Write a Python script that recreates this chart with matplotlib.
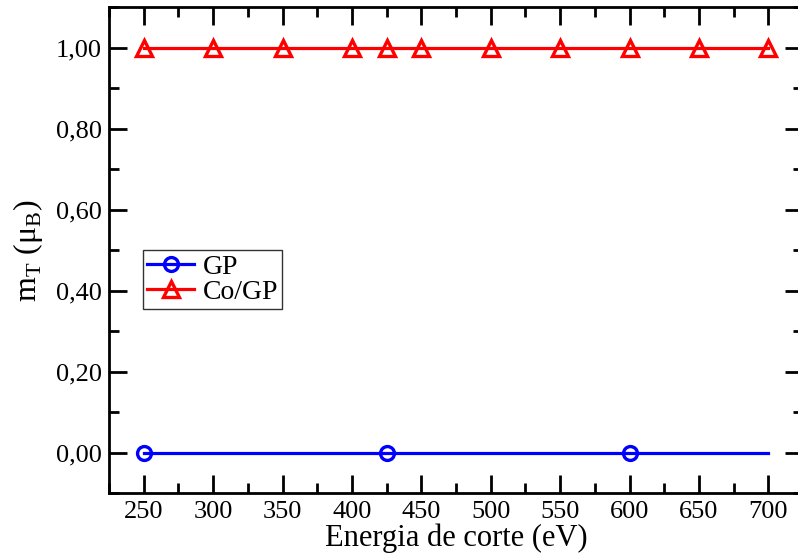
import matplotlib
matplotlib.use("Agg")
import matplotlib.pyplot as plt
from matplotlib.ticker import MultipleLocator, FuncFormatter

plt.rcParams['font.family'] = ['Liberation Serif', 'DejaVu Serif']
plt.rcParams['mathtext.fontset'] = 'custom'
plt.rcParams['mathtext.rm'] = 'Liberation Serif'

# Dados
energia_gp = [250, 425, 600, 700]
mt_gp = [0.0, 0.0, 0.0, 0.0]
energia_cogp = [250, 300, 350, 400, 425, 450, 500, 550, 600, 650, 700]
mt_cogp = [1.0] * 11

fig = plt.figure(figsize=(7.98, 5.57), dpi=100)
ax = fig.add_axes([0.1366, 0.1149, 0.8697, 0.8725])

ax.plot(energia_gp, mt_gp, color='#0000ff', linewidth=2.3, marker='o', markersize=10,
        markerfacecolor='none', markeredgewidth=2.4, markevery=[0, 1, 2], label='GP')
ax.plot(energia_cogp, mt_cogp, color='#ff0000', linewidth=2.3, marker='^', markersize=11,
        markerfacecolor='none', markeredgewidth=2.4, label='Co/GP')

ax.set_xlim(225, 725)
ax.set_ylim(-0.1, 1.1)
ax.xaxis.set_major_locator(MultipleLocator(50))
ax.xaxis.set_minor_locator(MultipleLocator(25))
ax.yaxis.set_major_locator(MultipleLocator(0.2))
ax.yaxis.set_minor_locator(MultipleLocator(0.1))
ax.yaxis.set_major_formatter(FuncFormatter(lambda v, p: f"{v:.2f}".replace('.', ',')))

ax.tick_params(which='both', direction='in', top=True, right=True, width=2, labelsize=19)
ax.tick_params(which='major', length=13, pad=5)
ax.tick_params(axis='x', which='major', pad=6)
ax.tick_params(which='minor', length=7)
for s in ax.spines.values():
    s.set_linewidth(2)

ax.set_xlabel('Energia de corte (eV)', fontsize=22, labelpad=0)
ax.set_ylabel(r'm$_\mathregular{T}$ (μ$_\mathregular{B}$)', fontsize=23, labelpad=8)

leg = ax.legend(loc='upper left', bbox_to_anchor=(0.049, 0.50), fontsize=20, frameon=True,
                fancybox=False, edgecolor='black', handlelength=1.7, handletextpad=0.3,
                borderpad=0.15, labelspacing=0.0, borderaxespad=0)
leg.get_frame().set_linewidth(1)

fig.savefig('out.png', dpi=100)
